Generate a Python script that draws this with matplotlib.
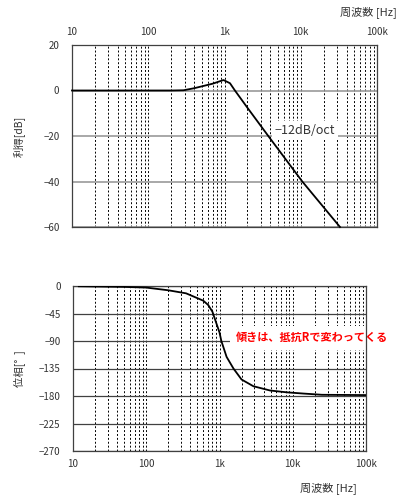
import matplotlib
matplotlib.use("Agg")
import matplotlib.pyplot as plt
from matplotlib.ticker import FixedLocator, NullFormatter, LogLocator

plt.rcParams['font.family'] = ['Noto Sans CJK JP', 'DejaVu Sans']

# ---- data ----
gain_freq = [10, 20, 50, 100, 200, 290, 400, 530, 700, 970, 1180, 1370, 2000, 3750, 10470, 32700]
gain_db   = [0, 0, 0, 0, 0, 0.1, 1.0, 2.0, 3.0, 4.6, 3.2, 0, -7.6, -20, -40, -60]

phase_freq = [12, 50, 100, 200, 350, 600, 700, 800, 900, 1000, 1060, 1250, 1550, 2000, 2900, 4900, 8300, 14000, 25000, 100000]
phase_deg  = [-0.5, -1.5, -2.6, -7, -12, -24, -31, -42, -60, -76, -90, -116, -135, -153, -164, -171, -174, -176, -178, -178.5]

x_ticks = [10, 100, 1000, 10000, 100000]
x_tick_labels = ['10', '100', '1k', '10k', '100k']
gain_ticks = [20, 0, -20, -40, -60]
phase_ticks = [0, -45, -90, -135, -180, -225, -270]
light_gain = [0]
light_phase = [-90, -180]

W, H = 412, 497
fig = plt.figure(figsize=(W / 100, H / 100), dpi=100)

def px_axes(l, t, r, b):
    return fig.add_axes([l / W, 1 - b / H, (r - l) / W, (b - t) / H])

ax1 = px_axes(72, 45, 377, 227)
ax2 = px_axes(73, 286, 366, 451)

tick_color = '#333333'
dark = '#404040'
light = '#999999'

def style(ax, yticks, light_vals, ylim):
    ax.set_xscale('log')
    ax.set_xlim(10, 100000)
    ax.set_ylim(*ylim)
    ax.xaxis.set_major_locator(FixedLocator(x_ticks))
    ax.xaxis.set_minor_locator(LogLocator(base=10, subs=range(2, 10)))
    ax.xaxis.set_minor_formatter(NullFormatter())
    ax.set_xticklabels(x_tick_labels)
    ax.set_yticks(yticks)
    ax.tick_params(which='both', length=0, labelsize=7, colors=tick_color, pad=6)
    ax.tick_params(axis='y', pad=9)
    ax.grid(True, which='both', axis='x', color='black', linestyle=(0, (2, 2)), linewidth=0.7)
    ax.grid(True, which='major', axis='y', color=dark, linestyle='-', linewidth=0.9)
    for tick in ax.yaxis.get_major_ticks():
        if tick.get_loc() in light_vals:
            tick.gridline.set_color(light)
            tick.gridline.set_linewidth(1.2)
    for s in ax.spines.values():
        s.set_color(dark)
        s.set_linewidth(0.9)
    ax.set_axisbelow(True)

style(ax1, gain_ticks, light_gain, (-60, 20))
ax1.xaxis.tick_top()
ax1.plot(gain_freq, gain_db, color='black', linewidth=1.3, clip_on=False, zorder=3)
ax1.text(11400, -17.4, '−12dB/oct', fontsize=9, color=tick_color, ha='center', va='center',
         bbox=dict(facecolor='white', edgecolor='none', pad=2), zorder=2.5)
ax1.set_ylabel('利得[dB]', fontsize=7.5, color=tick_color, labelpad=13)
fig.text(368 / W, 1 - 12 / H, '周波数 [Hz]', fontsize=8, color=tick_color, ha='center', va='center')

style(ax2, phase_ticks, light_phase, (-270, 0))
ax2.plot(phase_freq, phase_deg, color='black', linewidth=1.3, zorder=3)
ax2.text(1650, -85, '傾きは、抵抗Rで変わってくる', fontsize=8, color='red', fontweight='bold',
         ha='left', va='center', clip_on=False, zorder=2.5,
         bbox=dict(facecolor='white', edgecolor='none', pad=4))
ax2.set_ylabel('位相[°  ]', fontsize=7.5, color=tick_color, labelpad=10)
fig.text(328 / W, 1 - 488 / H, '周波数 [Hz]', fontsize=8, color=tick_color, ha='center', va='center')

fig.savefig('out.png', dpi=100)
